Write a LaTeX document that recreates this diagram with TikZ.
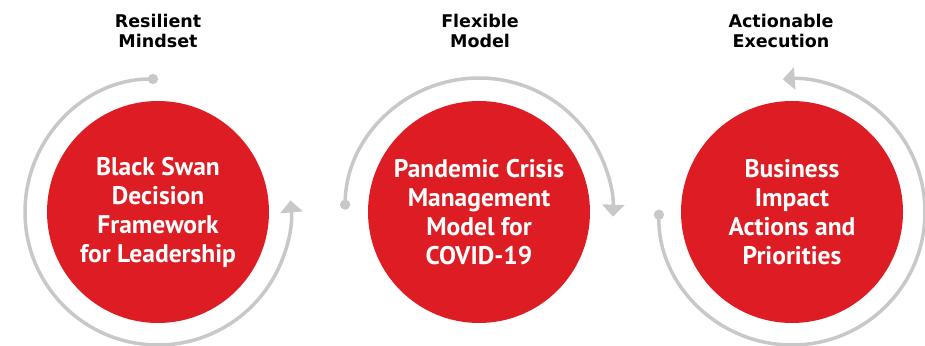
\documentclass[tikz,border=0pt]{standalone}
\usepackage{fontspec}
\newfontfamily\headfont{DejaVu Sans}
\newfontfamily\discfont{PT Sans}
\usetikzlibrary{arrows.meta}
\definecolor{discred}{RGB}{221,29,35}
\definecolor{cyclegray}{RGB}{200,200,200}

\begin{document}
\begin{tikzpicture}[x=1pt,y=1pt,>=Stealth,
  disc/.style={circle,fill=discred,minimum size=222pt,inner sep=0pt,text=white,align=center,
    font=\discfont\bfseries\fontsize{25.5}{29}\selectfont},
  heading/.style={align=center,font=\headfont\bfseries\fontsize{17.5}{20}\selectfont},
  cyclearc/.style={cyclegray,line width=3.5pt,{Circle[length=10pt]}-{Triangle[width=22pt,length=12pt]}}]
  \useasboundingbox (0,0) rectangle (925,345);
  % Red discs
  \node[disc] (bsd) at (158,133) {Black Swan\\Decision\\Framework\\for Leadership};
  \node[disc] (pcm) at (479,133) {Pandemic Crisis\\Management\\Model for\\COVID-19};
  \node[disc] (bia) at (792,133) {Business\\Impact\\Actions and\\Priorities};
  % Headings
  \node[heading] (resilient) at (158,314) {Resilient\\Mindset};
  \node[heading] (flexible) at (480,314) {Flexible\\Model};
  \node[heading] (actionable) at (781,314) {Actionable\\Execution};
  % Cycle arrows round the discs
  \draw[cyclearc] ([shift={(90:133)}]bsd.center) arc[start angle=90,end angle=365,radius=133];
  \draw[cyclearc] ([shift={(179:134)}]pcm.center) arc[start angle=179,end angle=-2,radius=134];
  \draw[cyclearc] ([shift={(179:133)}]bia.center) arc[start angle=179,end angle=454,radius=133];
\end{tikzpicture}
\end{document}
